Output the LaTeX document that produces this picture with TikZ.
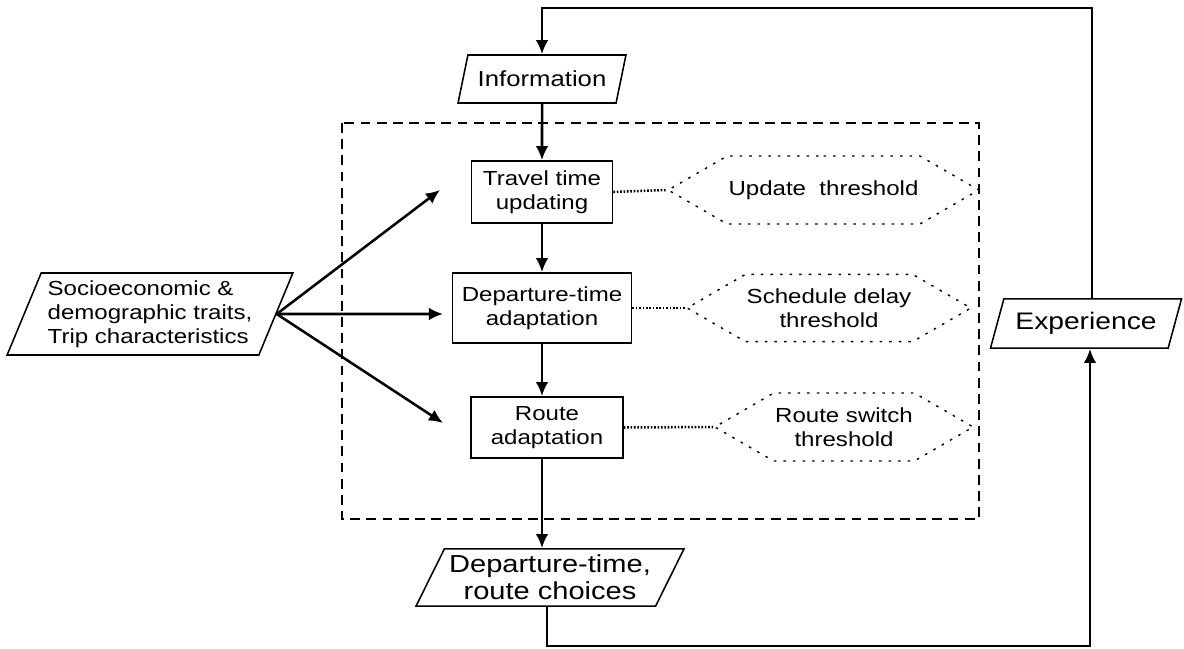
\documentclass[tikz,border=0pt]{standalone}
\usepackage{fontspec}
\setmainfont{Liberation Sans}[FakeStretch=1.18]
\usetikzlibrary{shapes.geometric,shapes.symbols,arrows.meta}

\tikzset{
  io/.style={draw, line width=1.1pt, trapezium, trapezium left angle=65,
    trapezium right angle=115, trapezium stretches=true, inner sep=1pt, align=center},
  stage/.style={draw, line width=1.1pt, rectangle, inner sep=1pt, align=center,
    font=\fontsize{14.5}{17}\selectfont},
  thr/.style={draw, line width=1pt, dash pattern=on 1.8pt off 5pt, signal,
    signal to=west and east, signal pointer angle=60, inner sep=1pt, align=center,
    font=\fontsize{14.5}{17}\selectfont},
  flow/.style={line width=1.8pt, -{Latex[length=10pt,width=9pt]}},
  link/.style={line width=1.8pt, dash pattern=on 1.2pt off 1.2pt}
}

\begin{document}
\begin{tikzpicture}[x=0.025cm,y=-0.025cm]
  \useasboundingbox (0,0) rectangle (1184,649);
  % dashed frame round the three stages
  \draw[line width=1pt, dash pattern=on 7pt off 4.5pt] (342,123) rectangle (979,519);

  % inputs and outputs
  \node[io, minimum width=4.2cm, minimum height=1.2cm, font=\fontsize{15.5}{18}\selectfont] (info) at (542,79) {Information};
  \node[io, align=left, minimum width=7.15cm, minimum height=2.05cm, font=\fontsize{14.5}{17}\selectfont] (socio) at (150,314)
    {Socioeconomic \&\\demographic traits,\\Trip characteristics};
  \node[io, minimum width=4.78cm, minimum height=1.23cm, font=\fontsize{17}{20}\selectfont] (exp) at (1086,323.5) {Experience};
  \node[io, trapezium left angle=60, trapezium right angle=120, minimum width=6.7cm, minimum height=1.43cm,
    font=\fontsize{17.5}{19}\selectfont] (choice) at (550,577.5) {Departure-time,\\route choices};

  % stages
  \node[stage, minimum width=3.53cm, minimum height=1.55cm] (trav) at (542,192) {Travel time\\updating};
  \node[stage, minimum width=4.48cm, minimum height=1.75cm] (dep) at (542,308) {Departure-time\\adaptation};
  \node[stage, minimum width=3.8cm, minimum height=1.53cm] (route) at (547,427.5) {Route\\adaptation};

  % thresholds
  \node[thr, minimum width=6.33cm, minimum height=1.7cm] (upd) at (823.5,190) {Update\ \ threshold};
  \node[thr, minimum width=6.3cm, minimum height=1.68cm] (sched) at (829,308) {Schedule delay\\threshold};
  \node[thr, minimum width=6.3cm, minimum height=1.7cm] (rsw) at (844,427) {Route switch\\threshold};

  % free ends of the input arrows
  \coordinate (a1) at (440,190);
  \coordinate (a2) at (443,314);
  \coordinate (a3) at (443,423);
  % corners of the feedback loop
  \coordinate (tr) at (1092,8);
  \coordinate (br) at (1090,646);

  \draw[flow] (socio.east) -- (a1);
  \draw[flow] (socio.east) -- (a2);
  \draw[flow] (socio.east) -- (a3);

  \draw[flow] (info.south) -- (trav.north);
  \draw[flow] (trav.south) -- (dep.north);
  \draw[flow] (dep.south) -- (dep.south |- route.north);
  \draw[flow] (dep.south |- route.south) -- (dep.south |- choice.north);

  \draw[link] (trav.east) -- (upd.west);
  \draw[link] (dep.east) -- (sched.west);
  \draw[link] (route.east) -- (rsw.west);

  % feedback loop
  \draw[flow] (choice.south -| route.south) |- (br) -- (br |- exp.south);
  \draw[flow] (tr |- exp.north) -- (tr) -| (info.north);
\end{tikzpicture}
\end{document}
